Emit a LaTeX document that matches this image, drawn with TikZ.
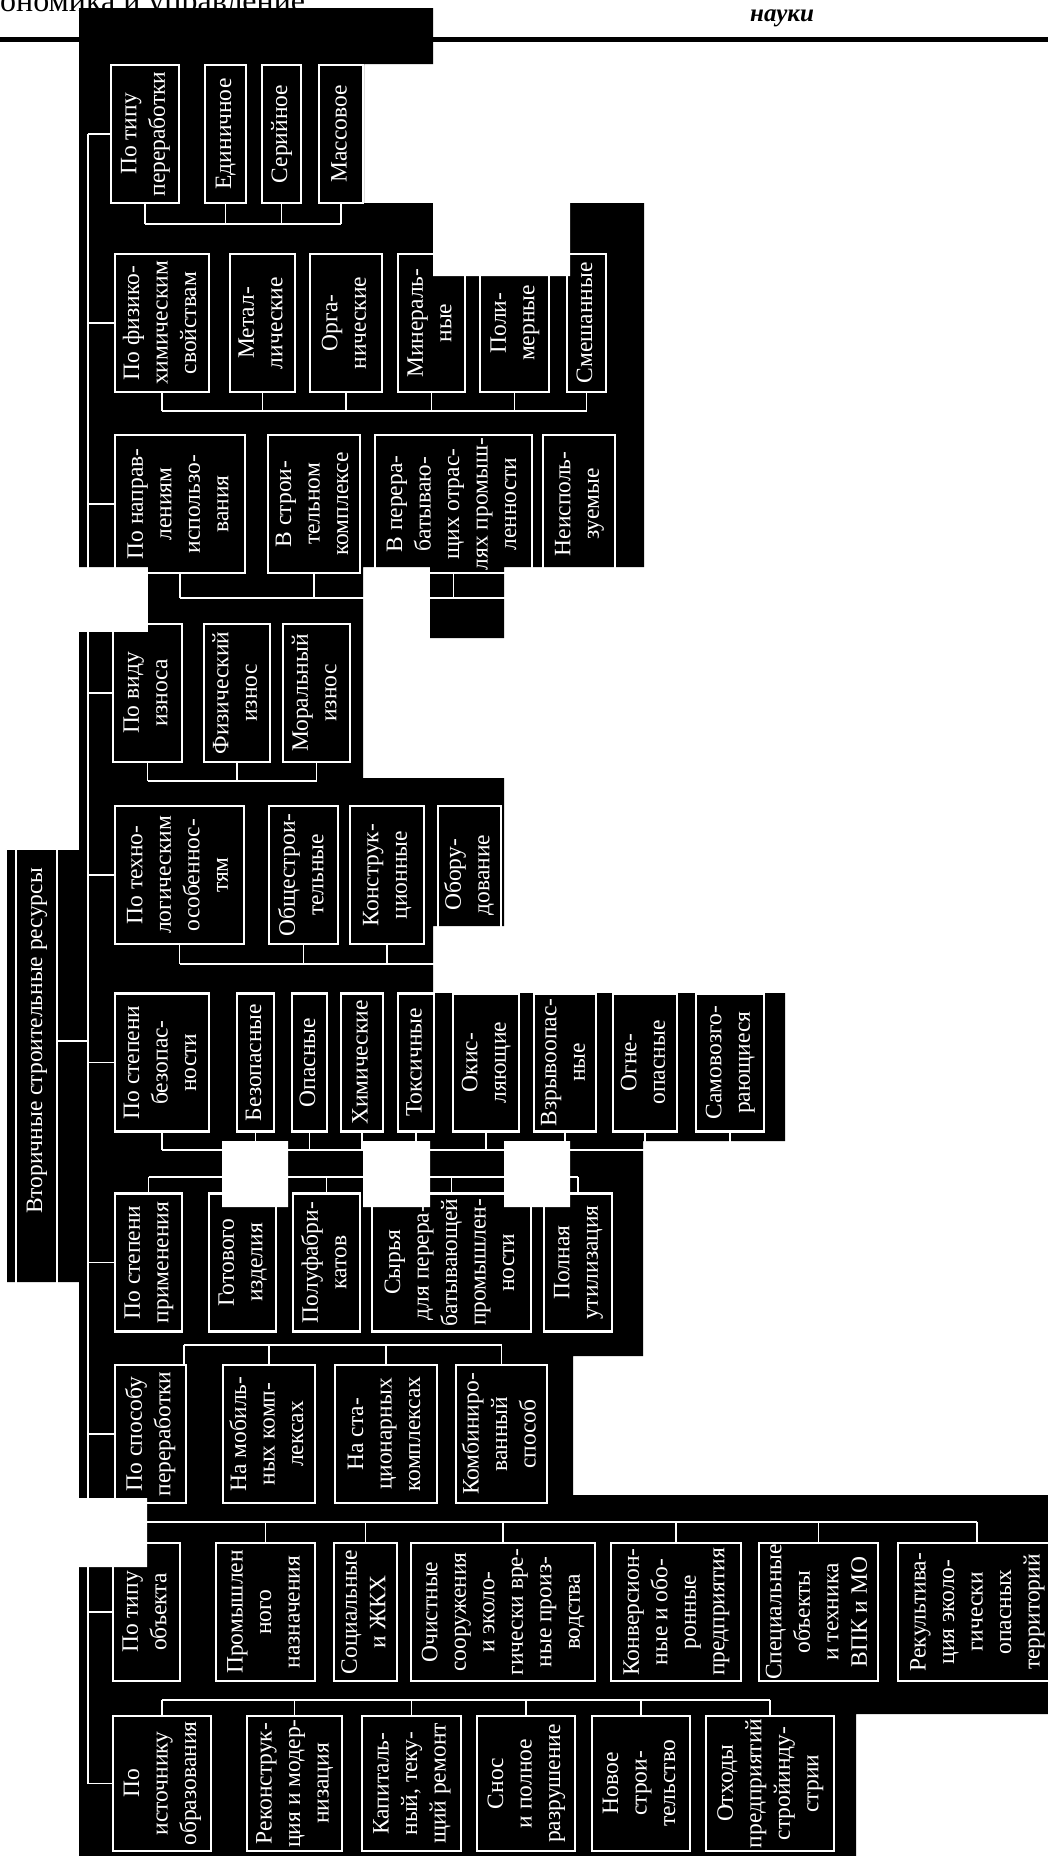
\documentclass[tikz,border=0pt]{standalone}
\usepackage{fontspec}
\setmainfont{Liberation Serif}
\usepackage{graphicx}
\usetikzlibrary{positioning}

\newcommand{\vtext}[1]{\rotatebox{90}{\begin{tabular}{@{}c@{}}#1\end{tabular}}}

\begin{document}
\begin{tikzpicture}[x=1pt, y=-1pt,
  box/.style={draw=white, line width=2.4pt, text=white, inner sep=0pt, outer sep=0pt,
    minimum height=138pt, font=\fontsize{23.5}{28.5}\selectfont},
  conn/.style={draw=white, line width=1.4pt}
]
  \useasboundingbox (0,0) rectangle (1048,1856);

  % header of the page
  \node[anchor=base west, inner sep=0pt, font=\fontsize{32}{34}\selectfont] (jname) at (0,11) {ономика и управление};
  \node[anchor=base west, inner sep=0pt, font=\fontsize{25}{27}\selectfont\bfseries\itshape] (rubric) at (750,21) {науки};
  \draw[line width=5pt] (0,39.5) -- (1048,39.5);

  % black ground of the scan
  \fill[black] (79,8) rectangle (433,64) (79,63) rectangle (364,204) (79,203) rectangle (644,567)
    (148,566) rectangle (363,641) (430,566) rectangle (504,638) (79,632) rectangle (363,779)
    (79,778) rectangle (504,926) (79,925) rectangle (433,994) (79,993) rectangle (785,1141)
    (79,1140) rectangle (643,1356) (79,1355) rectangle (573,1499) (79,1495) rectangle (1048,1714)
    (79,1713) rectangle (856,1856) (7,850) rectangle (80,1282);
  \fill[white] (433,203) rectangle (570,276) (79,1498) rectangle (147,1567)
    (222,1141) rectangle (288,1207) (363,1141) rectangle (430,1207) (504,1141) rectangle (570,1207);

  % root
  \node[box, minimum width=41pt, minimum height=498pt] (title) at (36.5,1041) {\vtext{Вторичные строительные ресурсы}};
  \coordinate (spine) at (88,0);

  % type of processing
  \node[box, minimum width=68pt] (tp) at (145,134) {\vtext{По типу\\переработки}};
  \node[box, minimum width=41pt, right=26pt of tp] (ed) {\vtext{Единичное}};
  \node[box, minimum width=39pt, right=16pt of ed] (ser) {\vtext{Серийное}};
  \node[box, minimum width=44pt, right=18pt of ser] (mas) {\vtext{Массовое}};

  % physico-chemical properties
  \node[box, minimum width=94pt] (fh) at (162,323) {\vtext{По физико-\\химическим\\свойствам}};
  \node[box, minimum width=65pt, right=21pt of fh] (met) {\vtext{Метал-\\лические}};
  \node[box, minimum width=72pt, right=15pt of met] (org) {\vtext{Орга-\\нические}};
  \node[box, minimum width=67pt, right=16pt of org] (mine) {\vtext{Минераль-\\ные}};
  \node[box, minimum width=69pt, right=15pt of mine] (poly) {\vtext{Поли-\\мерные}};
  \node[box, minimum width=39pt, right=18pt of poly] (mix) {\vtext{Смешанные}};

  % directions of use
  \node[box, minimum width=130pt] (nap) at (180,504) {\vtext{По направ-\\лениям\\использо-\\вания}};
  \node[box, minimum width=92pt, right=23pt of nap] (vst) {\vtext{В строи-\\тельном\\комплексе}};
  \node[box, minimum width=157pt, right=15pt of vst] (vper) {\vtext{В перера-\\батываю-\\щих отрас-\\лях промыш-\\ленности}};
  \node[box, minimum width=72pt, right=11pt of vper] (neisp) {\vtext{Неисполь-\\зуемые}};

  % kind of wear
  \node[box, minimum width=69pt] (viz) at (147.5,693) {\vtext{По виду\\износа}};
  \node[box, minimum width=66pt, right=22pt of viz] (fiz) {\vtext{Физический\\износ}};
  \node[box, minimum width=67pt, right=13pt of fiz] (mor) {\vtext{Моральный\\износ}};

  % technological features
  \node[box, minimum width=129pt] (tech) at (179.5,875) {\vtext{По техно-\\логическим\\особеннос-\\тям}};
  \node[box, minimum width=69pt, right=25pt of tech] (obsh) {\vtext{Общестрои-\\тельные}};
  \node[box, minimum width=74pt, right=12pt of obsh] (konstr) {\vtext{Конструк-\\ционные}};
  \node[box, minimum width=63pt, right=14pt of konstr] (obor) {\vtext{Обору-\\дование}};

  % degree of safety
  \node[box, minimum width=94pt] (bez) at (162,1062.5) {\vtext{По степени\\безопас-\\ности}};
  \node[box, minimum width=37pt, right=28pt of bez] (bezop) {\vtext{Безопасные}};
  \node[box, minimum width=35pt, right=18pt of bezop] (opas) {\vtext{Опасные}};
  \node[box, minimum width=42pt, right=14pt of opas] (him) {\vtext{Химические}};
  \node[box, minimum width=36pt, right=15pt of him] (toks) {\vtext{Токсичные}};
  \node[box, minimum width=66pt, right=19pt of toks] (okis) {\vtext{Окис-\\ляющие}};
  \node[box, minimum width=62pt, right=15pt of okis] (vzr) {\vtext{Взрывоопас-\\ные}};
  \node[box, minimum width=64pt, right=17pt of vzr] (ogne) {\vtext{Огне-\\опасные}};
  \node[box, minimum width=68pt, right=19pt of ogne] (samo) {\vtext{Самовозго-\\рающиеся}};

  % degree of application
  \node[box, minimum width=67pt] (prim) at (148.5,1262.5) {\vtext{По степени\\применения}};
  \node[box, minimum width=67pt, right=27pt of prim] (got) {\vtext{Готового\\изделия}};
  \node[box, minimum width=67pt, right=17pt of got] (polu) {\vtext{Полуфабри-\\катов}};
  \node[box, minimum width=159pt, right=12pt of polu] (syr) {\vtext{Сырья\\для перера-\\батывающей\\промышлен-\\ности}};
  \node[box, minimum width=68pt, right=13pt of syr] (poln) {\vtext{Полная\\утилизация}};

  % way of processing
  \node[box, minimum width=71pt] (sposob) at (150.5,1434) {\vtext{По способу\\переработки}};
  \node[box, minimum width=92pt, right=37pt of sposob] (mob) {\vtext{На мобиль-\\ных комп-\\лексах}};
  \node[box, minimum width=102pt, right=20pt of mob] (stac) {\vtext{На ста-\\ционарных\\комплексах}};
  \node[box, minimum width=91pt, right=19pt of stac] (komb) {\vtext{Комбиниро-\\ванный\\способ}};

  % type of object
  \node[box, minimum width=67pt] (obj) at (146.5,1612) {\vtext{По типу\\объекта}};
  \node[box, minimum width=99pt, right=36pt of obj] (prom) {\vtext{Промышлен\\ного\\назначения}};
  \node[box, minimum width=63pt, right=19pt of prom] (soc) {\vtext{Социальные\\и ЖКХ}};
  \node[box, minimum width=184pt, right=14pt of soc] (och) {\vtext{Очистные\\сооружения\\и эколо-\\гически вре-\\ные произ-\\водства}};
  \node[box, minimum width=130pt, right=16pt of och] (konv) {\vtext{Конверсион-\\ные и обо-\\ронные\\предприятия}};
  \node[box, minimum width=119pt, right=18pt of konv] (spec) {\vtext{Специальные\\объекты\\и техника\\ВПК и МО}};
  \node[box, minimum width=158pt, right=20pt of spec] (rek) {\vtext{Рекультива-\\ция эколо-\\гически\\опасных\\территорий}};

  % source of origin
  \node[box, minimum width=98pt, minimum height=135pt] (ist) at (162,1783.5) {\vtext{По\\источнику\\образования}};
  \node[box, minimum width=95pt, minimum height=135pt, right=36pt of ist] (rekon) {\vtext{Реконструк-\\ция и модер-\\низация}};
  \node[box, minimum width=99pt, minimum height=135pt, right=20pt of rekon] (kap) {\vtext{Капиталь-\\ный, теку-\\щий ремонт}};
  \node[box, minimum width=98pt, minimum height=135pt, right=16pt of kap] (snos) {\vtext{Снос\\и полное\\разрушение}};
  \node[box, minimum width=98pt, minimum height=135pt, right=17pt of snos] (novoe) {\vtext{Новое\\строи-\\тельство}};
  \node[box, minimum width=128pt, minimum height=135pt, right=16pt of novoe] (otx) {\vtext{Отходы\\предприятий\\стройинду-\\стрии}};

  % spine and ticks
  \draw[conn] (tp.west -| spine) -- (ist.west -| spine);
  \draw[conn] (title.east) -- (title.east -| spine);
  \foreach \n in {tp,fh,nap,viz,tech,bez,prim,sposob,obj,ist}
    \draw[conn] (\n.west) -- (\n.west -| spine);

  % buses below the boxes
  \coordinate (bus1) at (0,224);
  \coordinate (bus2) at (0,411);
  \coordinate (bus3) at (0,598);
  \coordinate (bus4) at (0,781);
  \coordinate (bus5) at (0,964);
  \coordinate (bus6) at (0,1150);
  \foreach \n in {tp,ed,ser,mas} \draw[conn] (\n.south) -- (\n.south |- bus1);
  \draw[conn] (tp.south |- bus1) -- (mas.south |- bus1);
  \foreach \n in {fh,met,org,mine,poly,mix} \draw[conn] (\n.south) -- (\n.south |- bus2);
  \draw[conn] (fh.south |- bus2) -- (mix.south |- bus2);
  \foreach \n in {nap,vst,vper,neisp} \draw[conn] (\n.south) -- (\n.south |- bus3);
  \draw[conn] (nap.south |- bus3) -- (neisp.south |- bus3);
  \foreach \n in {viz,fiz,mor} \draw[conn] (\n.south) -- (\n.south |- bus4);
  \draw[conn] (viz.south |- bus4) -- (mor.south |- bus4);
  \foreach \n in {tech,obsh,konstr,obor} \draw[conn] (\n.south) -- (\n.south |- bus5);
  \draw[conn] (tech.south |- bus5) -- (obor.south |- bus5);
  \foreach \n in {bez,bezop,opas,him,toks,okis,vzr,ogne,samo} \draw[conn] (\n.south) -- (\n.south |- bus6);
  \draw[conn] (bez.south |- bus6) -- (samo.south |- bus6);

  % buses above the boxes
  \coordinate (bus7) at (0,1177);
  \coordinate (bus8) at (0,1345);
  \coordinate (bus9) at (0,1522);
  \coordinate (bus10) at (0,1700);
  \foreach \n in {prim,got,polu,syr,poln} \draw[conn] (\n.north) -- (\n.north |- bus7);
  \draw[conn] (prim.north |- bus7) -- (poln.north |- bus7);
  \coordinate (sp0) at ([xshift=-2pt]sposob.north east);
  \draw[conn] (sp0) -- (sp0 |- bus8);
  \foreach \n in {mob,stac,komb} \draw[conn] (\n.north) -- (\n.north |- bus8);
  \draw[conn] (sp0 |- bus8) -- (komb.north |- bus8);
  \foreach \n in {obj,prom,soc,och,konv,spec,rek} \draw[conn] (\n.north) -- (\n.north |- bus9);
  \draw[conn] (obj.north |- bus9) -- (rek.north |- bus9);
  \foreach \n in {ist,rekon,kap,snos,novoe,otx} \draw[conn] (\n.north) -- (\n.north |- bus10);
  \draw[conn] (ist.north |- bus10) -- (otx.north |- bus10);
\end{tikzpicture}
\end{document}
